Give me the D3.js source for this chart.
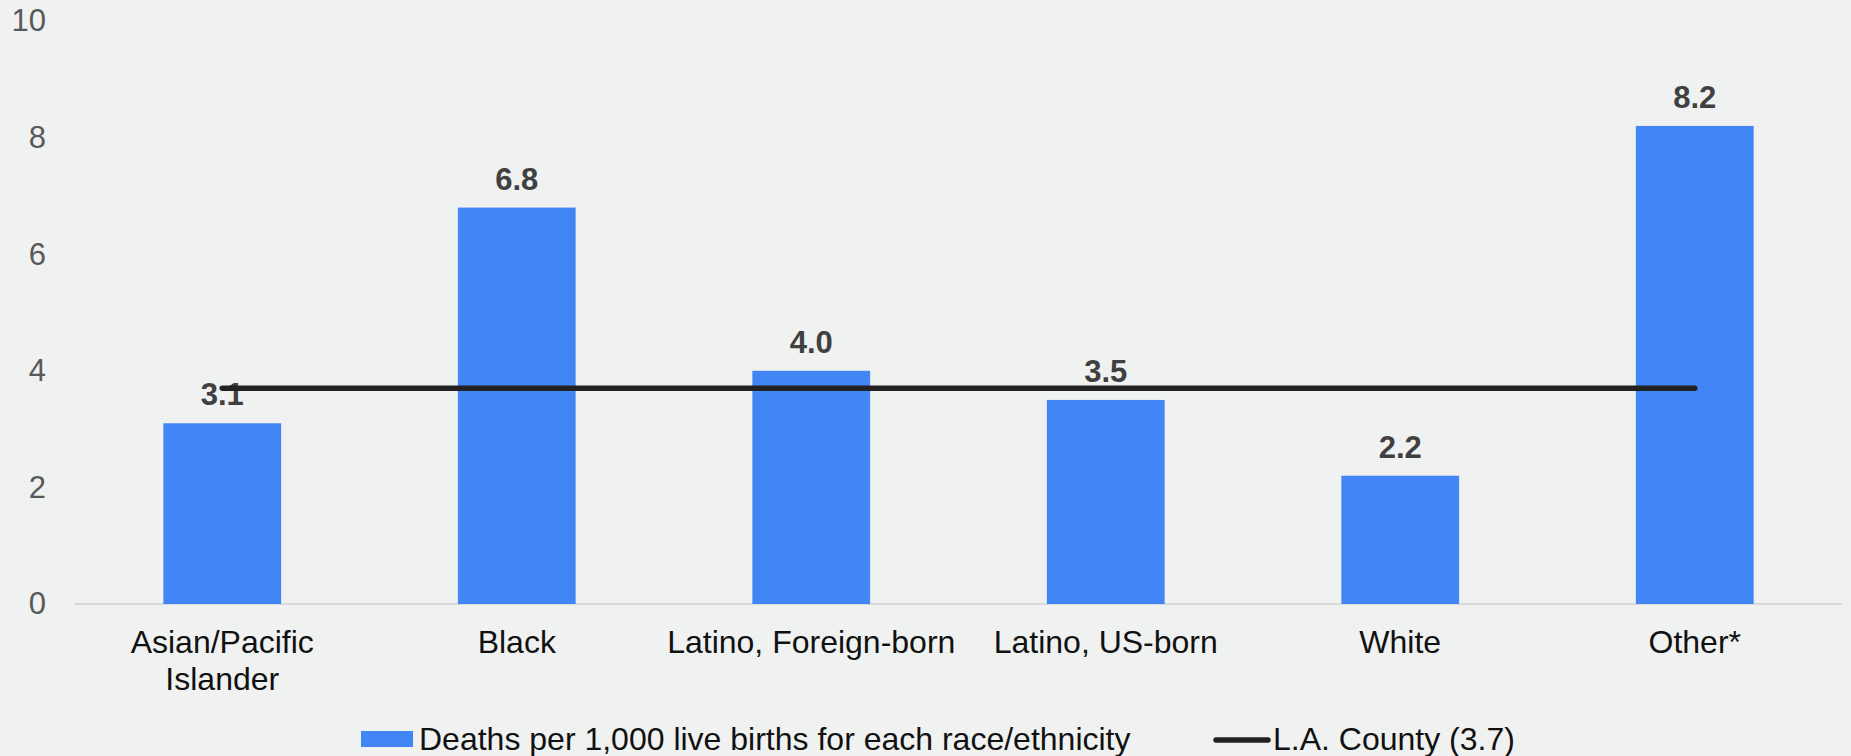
<!DOCTYPE html>
<html>
<head>
<meta charset="utf-8">
<script src="https://cdn.jsdelivr.net/npm/d3@7"></script>
<style>
  html, body { margin: 0; padding: 0; background: #f0f1f1; }
  svg { display: block; }
  text { font-family: Arial, "Liberation Sans", sans-serif; }
</style>
</head>
<body>
<script>
// data
var categories = ["Asian/Pacific Islander", "Black", "Latino, Foreign-born", "Latino, US-born", "White", "Other*"];
var labelLines = [["Asian/Pacific", "Islander"], ["Black"], ["Latino, Foreign-born"], ["Latino, US-born"], ["White"], ["Other*"]];
var rates = [3.1, 6.8, 4.0, 3.5, 2.2, 8.2];
var countyRate = 3.7;
var yTicks = [0, 2, 4, 6, 8, 10];
var legendNames = ["Deaths per 1,000 live births for each race/ethnicity", "L.A. County (3.7)"];

var width = 1851;
var height = 756;
// note: "top" is a reserved window prop, so use plot* names
var plotLeft = 75, plotRight = 1842, plotTop = 21, plotBottom = 604;

var svg = d3.select("body")
    .append("svg")
        .attr("width", width)
        .attr("height", height);

var x = d3.scaleBand()
    .domain(categories)
    .range([plotLeft, plotRight])
    .paddingInner(0.6)
    .paddingOuter(0.3);

var y = d3.scaleLinear()
    .domain([0, 10])
    .range([plotBottom, plotTop]);

// y tick labels, no axis line
var yAxis = d3.axisLeft(y).tickValues(yTicks).tickSize(0).tickPadding(0);
var gy = svg.append("g")
    .attr("transform", "translate(46,0)")
    .call(yAxis);
gy.select(".domain").remove();
gy.selectAll("text")
    .attr("fill", "#595959")
    .style("font-size", "31px")
    .style("font-family", "Arial, 'Liberation Sans', sans-serif");

// baseline
svg.append("line")
    .attr("x1", plotLeft).attr("x2", plotRight)
    .attr("y1", y(0)).attr("y2", y(0))
    .attr("stroke", "#d9d9d9")
    .attr("stroke-width", 2);

// bars
svg.selectAll("rect.bar")
    .data(rates)
    .enter()
        .append("rect")
        .attr("class", "bar")
        .attr("x", (d, i) => x(categories[i]))
        .attr("width", x.bandwidth())
        .attr("y", d => y(d))
        .attr("height", d => y(0) - y(d))
        .attr("fill", "#4285f4");

// value labels
svg.selectAll("text.val")
    .data(rates)
    .enter()
        .append("text")
        .attr("class", "val")
        .attr("x", (d, i) => x(categories[i]) + x.bandwidth() / 2)
        .attr("y", d => y(d) - 18)
        .attr("text-anchor", "middle")
        .attr("fill", "#404040")
        .style("font-size", "31px")
        .style("font-weight", "bold")
        .text(d => d.toFixed(1));

// county line across the band centres
var first = categories[0], last = categories[categories.length - 1];
svg.append("line")
    .attr("x1", x(first) + x.bandwidth() / 2)
    .attr("x2", x(last) + x.bandwidth() / 2)
    .attr("y1", y(countyRate)).attr("y2", y(countyRate))
    .attr("stroke", "#222222")
    .attr("stroke-width", 5.5)
    .attr("stroke-linecap", "round");

// category labels
var cat = svg.selectAll("text.cat")
    .data(labelLines)
    .enter()
        .append("text")
        .attr("class", "cat")
        .attr("text-anchor", "middle")
        .attr("fill", "#111111")
        .style("font-size", "32px");
cat.selectAll("tspan")
    .data((d, i) => d.map(t => ({t: t, i: i})))
    .enter()
        .append("tspan")
        .attr("x", d => x(categories[d.i]) + x.bandwidth() / 2)
        .attr("y", (d, j) => 653 + j * 36.7)
        .text(d => d.t);

// legend
var lg = svg.append("g");
lg.append("rect")
    .attr("x", 361).attr("y", 731)
    .attr("width", 52).attr("height", 16)
    .attr("fill", "#4285f4");
lg.append("text")
    .attr("x", 419).attr("y", 750)
    .attr("fill", "#111111")
    .style("font-size", "32px")
    .text(legendNames[0]);
lg.append("line")
    .attr("x1", 1216).attr("x2", 1268)
    .attr("y1", 740).attr("y2", 740)
    .attr("stroke", "#222222")
    .attr("stroke-width", 5.5)
    .attr("stroke-linecap", "round");
lg.append("text")
    .attr("x", 1273).attr("y", 750)
    .attr("fill", "#111111")
    .style("font-size", "32px")
    .text(legendNames[1]);
</script>
</body>
</html>
